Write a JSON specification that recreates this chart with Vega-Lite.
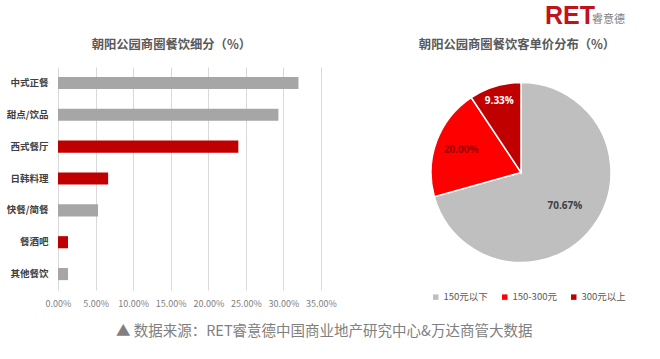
{
  "$schema": "https://vega.github.io/schema/vega-lite/v6.json",
  "background": "white",
  "padding": {"left": 6, "top": 2, "right": 5, "bottom": 5},
  "config": {"font": "Noto Sans CJK SC", "view": {"stroke": null}},
  "title": {"text": "▲ 数据来源：RET睿意德中国商业地产研究中心&万达商管大数据", "orient": "bottom", "anchor": "middle", "fontSize": 14.5, "fontWeight": "normal", "color": "#808080", "offset": 17, "dx": 8, "font": "Noto Sans CJK SC"},
  "bounds": "flush",
  "spacing": 43,
  "vconcat": [
    {
      "width": 550,
      "height": 22,
      "data": {"values": [{"brand": "RET", "sub": "睿意德"}]},
      "layer": [
        {
          "mark": {"type": "text", "x": 487, "y": 22, "align": "left", "baseline": "alphabetic", "fontSize": 25, "fontWeight": "bold", "font": "Liberation Sans", "color": "#C0141C"},
          "encoding": {"text": {"field": "brand"}}
        },
        {
          "mark": {"type": "text", "x": 534, "y": 20.5, "align": "left", "baseline": "alphabetic", "fontSize": 11, "font": "Noto Sans CJK SC", "color": "#7F7F7F"},
          "encoding": {"text": {"field": "sub"}}
        }
      ]
    },
    {
      "bounds": "flush",
      "spacing": 110,
      "hconcat": [
        {
          "width": 263,
          "height": 223,
          "title": {"text": "朝阳公园商圈餐饮细分（%）", "frame": "bounds", "anchor": "middle", "fontSize": 12.3, "fontWeight": "bold", "color": "#595959", "offset": 16},
          "data": {"values": [
            {"name": "中式正餐", "share": 0.32},
            {"name": "甜点/饮品", "share": 0.2933},
            {"name": "西式餐厅", "share": 0.24},
            {"name": "日韩料理", "share": 0.0667},
            {"name": "快餐/简餐", "share": 0.0533},
            {"name": "餐酒吧", "share": 0.0133},
            {"name": "其他餐饮", "share": 0.0133}
          ]},
          "mark": {"type": "bar"},
          "encoding": {
            "y": {"field": "name", "type": "nominal", "sort": null, "scale": {"paddingInner": 0.62, "paddingOuter": 0.31},
              "axis": {"title": null, "domain": false, "ticks": false, "labelFontSize": 9.5, "labelFontWeight": "bold", "labelColor": "#404040", "labelPadding": 10}},
            "x": {"field": "share", "type": "quantitative", "scale": {"domain": [0, 0.35], "nice": false},
              "axis": {"title": null, "format": ".2%", "values": [0, 0.05, 0.1, 0.15, 0.2, 0.25, 0.3, 0.35], "labelOverlap": false, "labelFlush": false, "domain": false, "ticks": false, "grid": true, "gridColor": "#D9D9D9", "labelColor": "#808080", "labelFontSize": 9, "labelPadding": 9}},
            "color": {"field": "name", "type": "nominal", "legend": null,
              "scale": {"domain": ["中式正餐", "甜点/饮品", "西式餐厅", "日韩料理", "快餐/简餐", "餐酒吧", "其他餐饮"],
                        "range": ["#A6A6A6", "#A6A6A6", "#C00000", "#C00000", "#A6A6A6", "#C00000", "#A6A6A6"]}}
          }
        },
        {
          "width": 180,
          "height": 211,
          "title": {"text": "朝阳公园商圈餐饮客单价分布（%）", "frame": "group", "anchor": "middle", "fontSize": 12.3, "fontWeight": "bold", "color": "#595959", "offset": 16, "dx": -4},
          "data": {"values": [
            {"range": "150元以下", "share": 0.7067},
            {"range": "150-300元", "share": 0.2},
            {"range": "300元以上", "share": 0.0933}
          ]},
          "layer": [
            {
              "mark": {"type": "arc", "outerRadius": 90, "stroke": "white", "strokeWidth": 1.5},
              "encoding": {
                "theta": {"field": "share", "type": "quantitative", "stack": true},
                "order": {"field": "share", "sort": "descending"},
                "color": {"field": "range", "type": "nominal", "sort": null,
                  "scale": {"domain": ["150元以下", "150-300元", "300元以上"], "range": ["#BFBFBF", "#FF0000", "#C00000"]},
                  "legend": {"title": null, "orient": "bottom", "direction": "horizontal", "symbolType": "square", "symbolSize": 30, "symbolStrokeWidth": 0, "labelFontSize": 9.5, "labelColor": "#595959", "labelOffset": 3, "columnPadding": 12, "offset": 14, "padding": 0}}
              }
            },
            {
              "mark": {"type": "text", "fontWeight": "bold", "fontSize": 10, "font": "Open Sans"},
              "encoding": {
                "theta": {"field": "share", "type": "quantitative", "stack": true},
                "order": {"field": "share", "sort": "descending"},
                "radius": {"field": "share", "type": "quantitative", "scale": {"type": "linear", "domain": [0.0933, 0.2, 0.7067], "range": [75, 64, 55], "zero": false, "nice": false}},
                "text": {"field": "share", "type": "quantitative", "format": ".2%"},
                "color": {"field": "range", "type": "nominal", "legend": null,
                  "scale": {"domain": ["150元以下", "150-300元", "300元以上"], "range": ["#404040", "#9A0000", "#FFFFFF"]}}
              }
            }
          ],
          "resolve": {"scale": {"color": "independent"}}
        }
      ]
    }
  ]
}
